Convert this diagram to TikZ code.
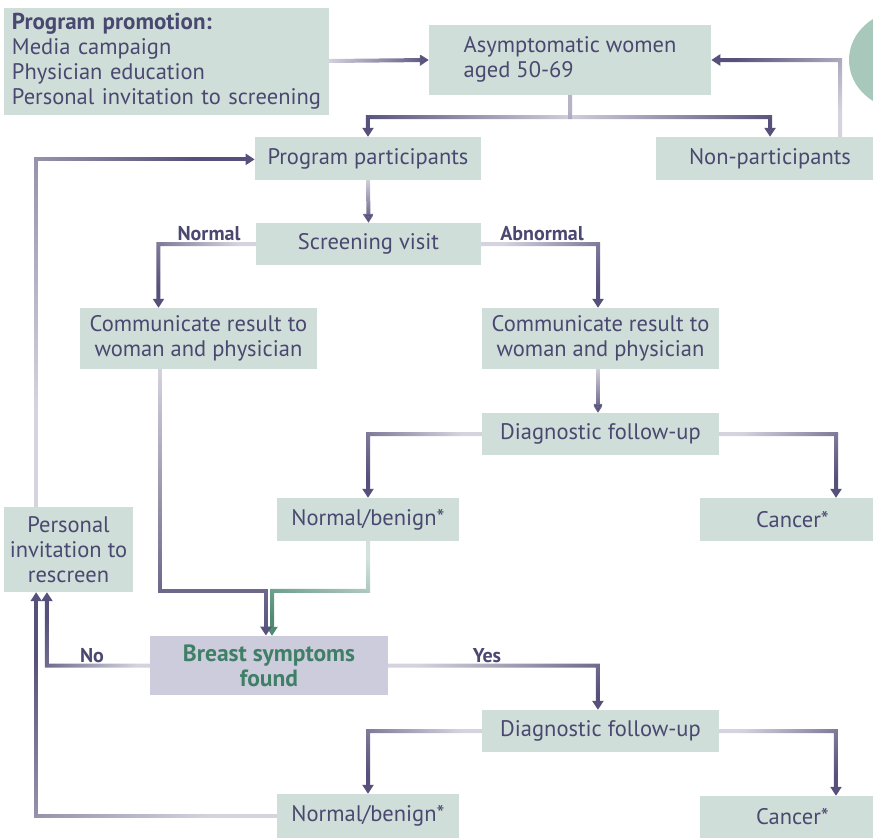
\documentclass[tikz,border=0pt]{standalone}
\usepackage{fontspec}
\setmainfont{PT Sans}
\usetikzlibrary{arrows.meta,calc,fadings}
\definecolor{boxfill}{HTML}{CFDED8}
\definecolor{textc}{HTML}{4A4870}
\definecolor{linec}{HTML}{56517A}
\definecolor{greenc}{HTML}{4F8A72}
\definecolor{greentext}{HTML}{3F7F66}
\definecolor{lavbox}{HTML}{CDCCDD}
\definecolor{decogreen}{HTML}{A7C8BA}
\tikzfading[name=grad, left color=transparent!75, right color=transparent!0]
\begin{document}
\begin{tikzpicture}[x=1pt,y=-1pt,
  every node/.style={font=\fontsize{22.5}{25}\selectfont, text=textc},
  box/.style={fill=boxfill, draw=none, inner sep=0pt, align=center},
  lab/.style={font=\fontsize{20}{22}\selectfont\bfseries, text=textc, inner sep=0pt},
  conn/.style={draw=linec, line width=4pt, -{Triangle[width=11pt,length=9pt]}, path fading=grad, fading angle=#1},
  gconn/.style={draw=greenc, line width=4pt, -{Triangle[width=11pt,length=9pt]}, path fading=grad, fading angle=#1}
]
\useasboundingbox (0,0) rectangle (873,838);
\begin{scope}
\clip (0,0) rectangle (873,838);
\fill[decogreen] (905,60) ellipse (56 and 50);

\node[box, minimum width=325pt, minimum height=107pt, text width=309pt, align=left] (promo) at (166.5,61)
  {{\fontsize{23}{25}\selectfont\bfseries Program promotion:}\\Media campaign\\Physician education\\Personal invitation to screening};
\node[box, minimum width=282pt, minimum height=70pt] (asym) at (570,60)
  {\begin{tabular}{@{}l@{}}Asymptomatic women\\aged 50-69\end{tabular}};
\node[box, minimum width=226pt, minimum height=43pt] (part) at (368,158.5) {Program participants};
\node[box, minimum width=228pt, minimum height=43pt] (nonpart) at (770,158.5) {Non-participants};
\node[box, minimum width=225pt, minimum height=42pt] (screen) at (368.5,244) {Screening visit};
\node[box, minimum width=237pt, minimum height=61pt] (commL) at (198.5,338.5) {Communicate result to\\woman and physician};
\node[box, minimum width=237pt, minimum height=61pt] (commR) at (600.5,338.5) {Communicate result to\\woman and physician};
\node[box, minimum width=237pt, minimum height=42pt] (diag1) at (600.5,434) {Diagnostic follow-up};
\node[box, minimum width=182pt, minimum height=43pt] (nb1) at (368,519.5) {Normal/benign*};
\node[box, minimum width=185pt, minimum height=43pt] (canc1) at (792.5,519.5) {Cancer*};
\node[box, minimum width=129pt, minimum height=85pt] (invit) at (68.5,549.5) {Personal\\invitation to\\rescreen};
\node[box, fill=lavbox, minimum width=238pt, minimum height=59pt, text=greentext, font=\fontsize{23.5}{25}\selectfont\bfseries] (breast) at (269,665.5) {Breast symptoms\\found};
\node[box, minimum width=237pt, minimum height=42pt] (diag2) at (600.5,731) {Diagnostic follow-up};
\node[box, minimum width=182pt, minimum height=44pt] (nb2) at (368,816) {Normal/benign*};
\node[box, minimum width=185pt, minimum height=42pt] (canc2) at (792.5,817) {Cancer*};

% connectors
\draw[conn=0] (promo.east) -- (asym.west);
\draw[conn=-160] (asym.south) -- ++(0,22) -| (part.north);
\draw[conn=-20] (asym.south) -- ++(0,22) -| (nonpart.north);
\draw[conn=150] ([xshift=70pt]nonpart.north) |- (asym.east);
\draw[conn=-90] (part.south) -- (screen.north);
\draw[conn=-150] (screen.west) -| ([xshift=-40pt]commL.north);
\draw[conn=-30] (screen.east) -| ([xshift=-2.5pt]commR.north);
\draw[conn=-90] ([xshift=-2.5pt]commR.south) -- ([xshift=-2.5pt]diag1.north);
\draw[conn=-150] (diag1.west) -| (nb1.north);
\draw[conn=-30] (diag1.east) -| ([xshift=43.5pt]canc1.north);
\draw[gconn=-120] (nb1.south) |- ($(breast.north)+(3,-45)$) -- ([xshift=3pt]breast.north);
\draw[conn=-90] ([xshift=-38.5pt]commL.south) |- ($(breast.north)+(-3,-45)$) -- ([xshift=-3pt]breast.north);
\draw[conn=160] (breast.west) -| ([xshift=-21.5pt]invit.south);
\draw[conn=-20] (breast.east) -| ([xshift=-2.5pt]diag2.north);
\draw[conn=-150] (diag2.west) -| (nb2.north);
\draw[conn=-30] (diag2.east) -| ([xshift=43.5pt]canc2.north);
\draw[conn=135] (nb2.west) -| ([xshift=-32.5pt]invit.south);
\draw[conn=45] ([xshift=-32.5pt]invit.north) |- (part.west);

% labels
\node[lab] (lnormal) at (209,234) {Normal};
\node[lab] (labn) at (542,234) {Abnormal};
\node[lab] (lno) at (92,656) {No};
\node[lab] (lyes) at (487,656) {Yes};
\end{scope}
\end{tikzpicture}
\end{document}
